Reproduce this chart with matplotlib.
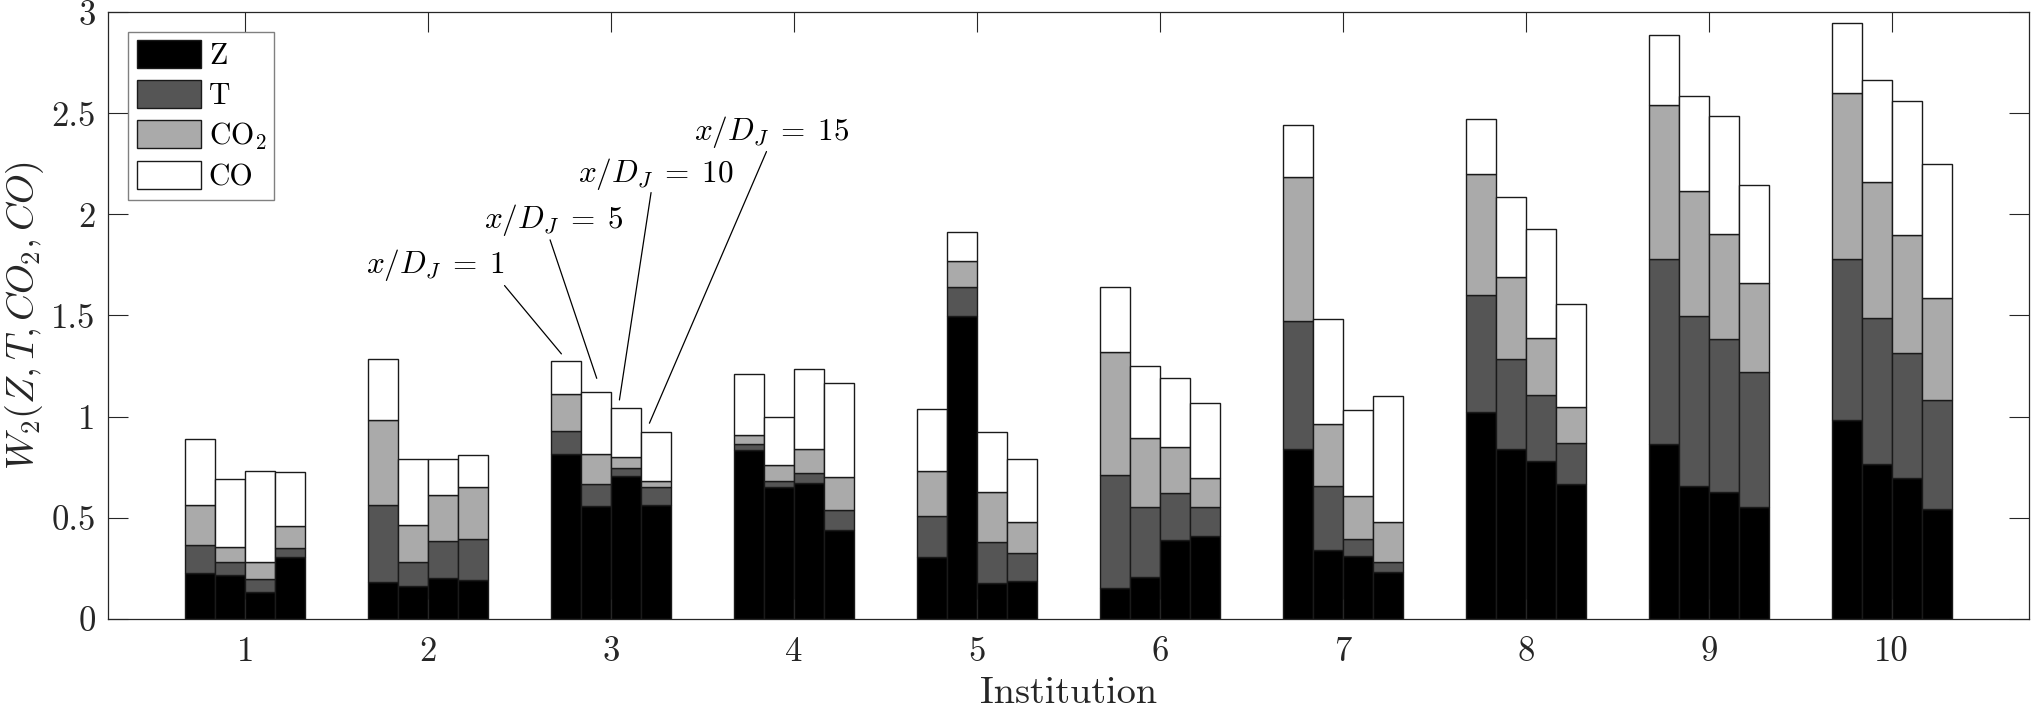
import numpy as np
import matplotlib
matplotlib.use("Agg")
import matplotlib.pyplot as plt
from matplotlib.ticker import FixedLocator, FuncFormatter

plt.rcParams['font.family'] = ['cmr10', 'DejaVu Serif']
plt.rcParams['mathtext.fontset'] = 'cm'
plt.rcParams['axes.formatter.use_mathtext'] = True

# W2 contributions per institution (rows) and x/D_J = 1, 5, 10, 15 (columns)
institutions = [1, 2, 3, 4, 5, 6, 7, 8, 9, 10]
stations = ["1", "5", "10", "15"]

Z_w2 = [
    [0.226, 0.215, 0.130, 0.304],
    [0.181, 0.161, 0.201, 0.190],
    [0.817, 0.555, 0.705, 0.560],
    [0.835, 0.649, 0.672, 0.437],
    [0.304, 1.498, 0.175, 0.184],
    [0.152, 0.206, 0.390, 0.410],
    [0.839, 0.338, 0.309, 0.231],
    [1.021, 0.837, 0.781, 0.665],
    [0.862, 0.654, 0.625, 0.553],
    [0.983, 0.766, 0.696, 0.542],
]
T_w2 = [
    [0.139, 0.067, 0.065, 0.045],
    [0.381, 0.119, 0.184, 0.204],
    [0.112, 0.110, 0.040, 0.091],
    [0.027, 0.034, 0.049, 0.103],
    [0.206, 0.143, 0.203, 0.141],
    [0.558, 0.347, 0.230, 0.141],
    [0.634, 0.316, 0.085, 0.049],
    [0.580, 0.446, 0.325, 0.206],
    [0.915, 0.844, 0.758, 0.667],
    [0.794, 0.720, 0.618, 0.539],
]
CO2_w2 = [
    [0.197, 0.072, 0.083, 0.108],
    [0.419, 0.181, 0.228, 0.255],
    [0.184, 0.148, 0.054, 0.032],
    [0.047, 0.078, 0.118, 0.161],
    [0.222, 0.128, 0.247, 0.154],
    [0.611, 0.342, 0.231, 0.143],
    [0.710, 0.309, 0.215, 0.197],
    [0.597, 0.405, 0.282, 0.177],
    [0.766, 0.618, 0.522, 0.439],
    [0.822, 0.674, 0.584, 0.506],
]
CO_w2 = [
    [0.327, 0.336, 0.454, 0.271],
    [0.304, 0.329, 0.175, 0.161],
    [0.161, 0.309, 0.244, 0.242],
    [0.300, 0.237, 0.394, 0.465],
    [0.304, 0.143, 0.300, 0.313],
    [0.318, 0.354, 0.338, 0.372],
    [0.259, 0.521, 0.421, 0.627],
    [0.273, 0.398, 0.539, 0.508],
    [0.347, 0.470, 0.584, 0.488],
    [0.347, 0.506, 0.663, 0.663],
]

series = [("Z", Z_w2, "#000000"),
          ("T", T_w2, "#555555"),
          ("CO$_2$", CO2_w2, "#aaaaaa"),
          ("CO", CO_w2, "#ffffff")]

fig = plt.figure(figsize=(20.32, 7.09), dpi=100)
ax = fig.add_axes([0.0532, 0.1274, 0.9453, 0.8553])

width = 0.1635
x0 = np.array(institutions, dtype=float)
handles = []
for j in range(len(stations)):
    xj = x0 + (j - 1.5) * width
    bottom = np.zeros(len(institutions))
    for name, vals, col in series:
        v = np.array(vals)[:, j]
        b = ax.bar(xj, v, width, bottom=bottom, color=col, edgecolor="#1a1a1a",
                   linewidth=1.0, label=name if j == 0 else None)
        if j == 0:
            handles.append(b)
        bottom = bottom + v

ax.set_xlim(0.25, 10.75)
ax.set_ylim(0, 3)
ax.set_xticks(institutions)
ax.set_xticklabels([str(i) for i in institutions])
ax.yaxis.set_major_locator(FixedLocator(np.arange(0, 3.01, 0.5)))
ax.yaxis.set_major_formatter(FuncFormatter(lambda v, p: "%g" % v))

ax.tick_params(direction="in", length=14.4, width=0.8, top=True, right=True,
               labelsize=25, colors="#262626", pad=9)
ax.tick_params(axis="x", pad=13)
for s in ax.spines.values():
    s.set_color("#262626")
    s.set_linewidth(0.9)

ax.set_xlabel("Institution", fontsize=27.5, color="#262626", labelpad=6)
ax.set_ylabel(r"$W_2(Z,T,CO_2,CO)$", fontsize=27.5, color="#262626", labelpad=4)

leg = ax.legend(handles=handles, loc="upper left", bbox_to_anchor=(0.0106, 0.967),
                borderaxespad=0, fontsize=21.5, fancybox=False, framealpha=1,
                handlelength=2.16, handleheight=1.06, handletextpad=0.26,
                labelspacing=0.33, borderpad=0.27)
leg.get_frame().set_edgecolor("#808080")
leg.get_frame().set_linewidth(1.0)

# annotations: label position (left, baseline), line start, line end
notes = [
    (r"$x/D_J\;=\;1$", (1.661, 1.709), (2.417, 1.648), (2.728, 1.310)),
    (r"$x/D_J\;=\;5$", (2.307, 1.932), (2.666, 1.874), (2.921, 1.189)),
    (r"$x/D_J\;=\;10$", (2.817, 2.162), (3.218, 2.108), (3.045, 1.082)),
    (r"$x/D_J\;=\;15$", (3.454, 2.369), (3.849, 2.311), (3.209, 0.967)),
]
for txt, tpos, lstart, lend in notes:
    ax.text(tpos[0], tpos[1], txt, fontsize=22.5, ha="left", va="baseline")
    ax.annotate("", xy=lend, xytext=lstart,
                arrowprops=dict(arrowstyle="-", shrinkA=0, shrinkB=0, lw=0.9, color="black"))

fig.savefig("out.png", dpi=100)
